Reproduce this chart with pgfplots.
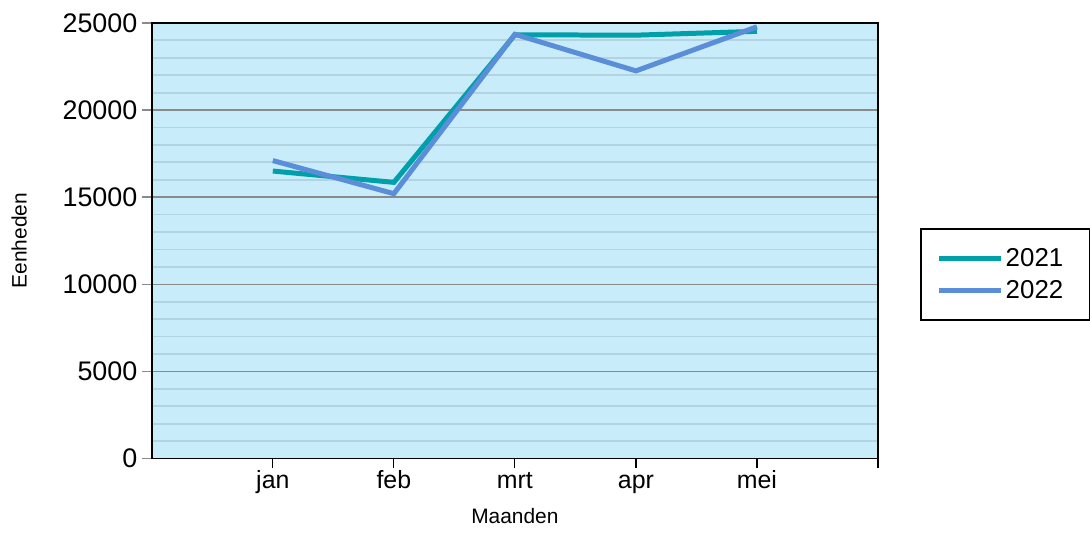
\documentclass[border=0pt]{standalone}
\usepackage{fontspec}
\setmainfont{Liberation Sans}
\usepackage{pgfplots}
\pgfplotsset{compat=1.18}
\definecolor{bgblue}{HTML}{C8ECFA}
\definecolor{minorg}{HTML}{B2D3DF}
\definecolor{majorg}{HTML}{8A8A8A}
\definecolor{teal21}{HTML}{00A0AA}
\definecolor{blue22}{HTML}{5B8ED8}
\begin{document}
\begin{tikzpicture}
\begin{axis}[
  scale only axis,
  width=727bp, height=436bp,
  xmin=-1, xmax=5, ymin=0, ymax=25000,
  xtick={0,1,2,3,4,5},
  xticklabels={jan,feb,mrt,apr,mei,{}},
  ytick={0,5000,10000,15000,20000,25000},
  minor ytick={1000,2000,3000,4000,6000,7000,8000,9000,11000,12000,13000,14000,16000,17000,18000,19000,21000,22000,23000,24000},
  scaled ticks=false,
  /pgf/number format/1000 sep={},
  /pgf/number format/assume math mode=true,
  xtick pos=left, ytick pos=left,
  tick align=outside,
  major tick length=10bp,
  minor tick length=0pt,
  x tick style={black, line width=1.2bp},
  y tick style={majorg, line width=1.5bp},
  ymajorgrids, yminorgrids,
  major grid style={majorg, line width=1.5bp},
  minor grid style={minorg, line width=1.8bp},
  axis background/.style={fill=bgblue},
  axis line style={black, line width=1.8bp},
  yticklabel style={font=\fontsize{27}{30}\selectfont, xshift=-1bp},
  xticklabel style={font=\fontsize{25}{28}\selectfont, yshift=-5bp, text height=2.2ex, text depth=0.6ex},
  xlabel={Maanden}, ylabel={Eenheden},
  label style={font=\fontsize{21}{24}\selectfont},
  xlabel style={yshift=-10bp},
  ylabel style={yshift=29bp},
  legend style={at={(1.058,0.3165)}, anchor=south west, draw=black, line width=1.5bp,
    font=\fontsize{26}{30}\selectfont, inner xsep=16bp, inner ysep=18bp, cells={anchor=west},
    row sep=8bp},
  legend image code/.code={\draw[#1, line cap=butt] (2bp,0bp) -- (52bp,0bp); \path (0bp,0bp) -- (62bp,0bp);},
]
\addplot[teal21, line width=5bp] coordinates {(0,16500) (1,15850) (2,24320) (3,24300) (4,24520)};
\addlegendentry{2021\hspace*{8bp}}
\addplot[blue22, line width=5bp] coordinates {(0,17100) (1,15200) (2,24350) (3,22250) (4,24780)};
\addlegendentry{2022\hspace*{8bp}}
\end{axis}
\path (current axis.south west) ++(-152bp,-81bp) rectangle ++(1090bp,540bp);
\end{tikzpicture}
\end{document}
